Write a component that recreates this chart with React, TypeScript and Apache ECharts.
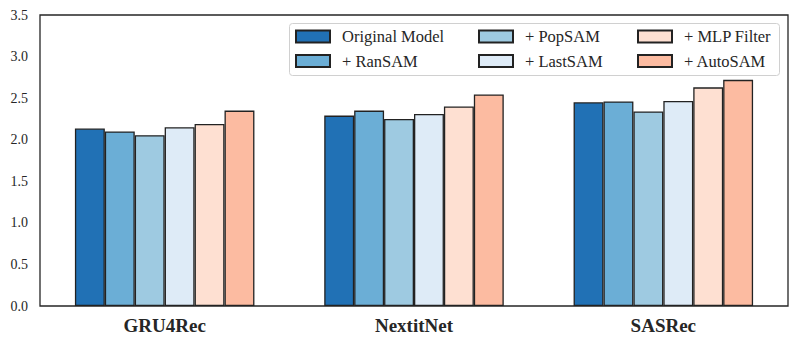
import React, { useEffect, useRef } from "react";
import * as echarts from "echarts";

const categories = ["GRU4Rec", "NextitNet", "SASRec"];
const seriesNames = ["Original Model", "+ RanSAM", "+ PopSAM", "+ LastSAM", "+ MLP Filter", "+ AutoSAM"];
const originalModel = [2.135, 2.29, 2.45];
const ranSAM = [2.1, 2.35, 2.46];
const popSAM = [2.055, 2.25, 2.34];
const lastSAM = [2.15, 2.31, 2.465];
const mlpFilter = [2.19, 2.4, 2.63];
const autoSAM = [2.35, 2.545, 2.72];
const seriesValues = [originalModel, ranSAM, popSAM, lastSAM, mlpFilter, autoSAM];
const colors = ["#2171b5", "#6baed6", "#9ecae1", "#deebf7", "#fee0d2", "#fcbba1"];
const yTicks = [0, 0.5, 1.0, 1.5, 2.0, 2.5, 3.0, 3.5];

const FONT = "Liberation Serif";

export default function App() {
  const ref = useRef<HTMLDivElement>(null);
  useEffect(() => {
    if (!ref.current) return;
    const chart = echarts.init(ref.current, undefined, { renderer: "svg" });
    const legendText = {
      fontFamily: FONT,
      fontSize: 16.5,
      color: "#262626",
      lineHeight: 16,
      padding: [0, 0, 0, 7],
    };
    const legendCommon = {
      orient: "vertical" as const,
      icon: "rect",
      itemWidth: 34,
      itemHeight: 12,
      itemGap: 7.5,
      padding: 0,
      textStyle: legendText,
      top: 28,
    };
    chart.setOption({
      animation: false,
      backgroundColor: "#ffffff",
      grid: {
        left: 40,
        top: 15,
        right: 9,
        bottom: 39,
        show: true,
        borderColor: "#262626",
        borderWidth: 1.3,
      },
      xAxis: {
        type: "category",
        data: categories,
        axisLine: { show: false },
        axisTick: { show: false },
        axisLabel: {
          fontFamily: FONT,
          fontSize: 19,
          fontWeight: "bold",
          color: "#262626",
          margin: 10,
        },
      },
      yAxis: {
        type: "value",
        min: 0,
        max: 3.5,
        interval: 0.5,
        splitLine: { show: false },
        axisLine: { show: false },
        axisTick: { show: false },
        axisLabel: {
          fontFamily: FONT,
          fontSize: 14,
          color: "#262626",
          margin: 12,
          formatter: (v: number) => (yTicks.includes(v) ? v.toFixed(1) : ""),
        },
      },
      legend: [
        { ...legendCommon, left: 295, data: [seriesNames[0], seriesNames[1]] },
        { ...legendCommon, left: 478, data: [seriesNames[2], seriesNames[3]] },
        { ...legendCommon, left: 637, data: [seriesNames[4], seriesNames[5]] },
      ],
      graphic: [
        {
          type: "rect",
          z: 0,
          shape: { x: 289.5, y: 23.5, width: 490, height: 52, r: 3 },
          style: { fill: "rgba(255,255,255,0.85)", stroke: "#d0d0d0", lineWidth: 1 },
        },
      ],
      series: seriesNames.map((name, i) => ({
        name,
        type: "bar",
        data: seriesValues[i],
        barGap: "0%",
        barCategoryGap: "28%",
        itemStyle: { color: colors[i], borderColor: "#222222", borderWidth: 1.3 },
        z: 2,
      })),
    });
    return () => chart.dispose();
  }, []);
  return (
    <div
      ref={ref}
      style={{ position: "absolute", left: 0, top: 0, width: 797, height: 345 }}
    />
  );
}
